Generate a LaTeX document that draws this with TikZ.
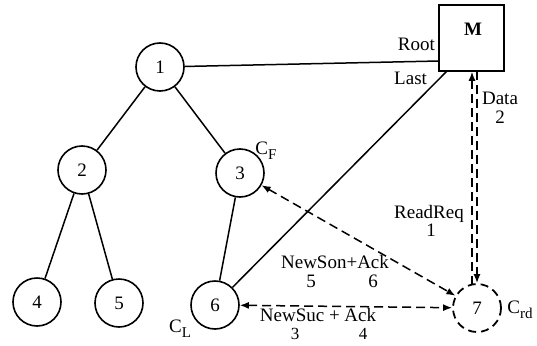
\documentclass[tikz,border=0pt]{standalone}
\usepackage{fontspec}
\setmainfont{Liberation Serif}
\usetikzlibrary{arrows.meta}
\newcommand{\subsc}[1]{{\fontsize{15}{15}\selectfont\raisebox{-5pt}{#1}}}
\begin{document}
\begin{tikzpicture}[x=1pt,y=-1pt,
  circ/.style={circle,draw,line width=1.6pt,minimum size=48pt,inner sep=0pt,font=\fontsize{19}{19}\selectfont},
  lbl/.style={font=\fontsize{19}{19}\selectfont,inner sep=0pt,text height=13pt,text depth=1pt},
  small/.style={font=\fontsize{17}{17}\selectfont},
  link/.style={line width=1.5pt},
  msg/.style={dash pattern=on 9pt off 5pt,line width=1.5pt,-{Latex[length=9pt,width=7pt]}},
  msgtwo/.style={dash pattern=on 9pt off 5pt,line width=1.5pt,{Latex[length=9pt,width=7pt]}-{Latex[length=9pt,width=7pt]}}]
\useasboundingbox (0,0) rectangle (537,345);
\node[circ] (n1) at (160,67) {1};
\node[circ] (n2) at (82,170) {2};
\node[circ] (n3) at (240,173) {3};
\node[circ] (n4) at (37,302) {4};
\node[circ] (n5) at (119,303) {5};
\node[circ] (n6) at (215,305) {6};
\node[circ,dash pattern=on 8pt off 5pt,line width=1.8pt] (n7) at (477,308) {7};
\node[draw,line width=1.5pt,minimum width=65pt,minimum height=66pt,inner sep=0pt] (M) at (471.5,38) {};
\node[font=\fontsize{19}{19}\bfseries] (Mt) at (473,29) {M};
\coordinate (Mroot) at (439,61);
\coordinate (Mlast) at (447,71);
\draw[link] (n1) -- (n2);
\draw[link] (n1) -- (n3);
\draw[link] (n2) -- (n4);
\draw[link] (n2) -- (n5);
\draw[link] (n3) -- (n6);
\draw[link] (n1) -- (Mroot);
\draw[link] (n6) -- (Mlast);
\coordinate (dstart) at (472,285);
\coordinate (rstart) at (477,71);
\draw[msg] (dstart) -- (dstart |- M.south);
\draw[msg] (rstart) -- (rstart |- n7.north);
\draw[msgtwo] (n3) -- (n7);
\draw[msgtwo] (n6) -- (n7);
\node[lbl,anchor=east] (root) at (435,45) {Root};
\node[lbl,anchor=west] (last) at (394,78) {Last};
\node[lbl] (data) at (500,98) {Data};
\node[lbl] (data2) at (500,117) {2};
\node[lbl] (rr) at (429,212) {ReadReq};
\node[lbl] (rr1) at (431,230) {1};
\node[lbl] (ns) at (335,262) {NewSon+Ack};
\node[lbl] (ns5) at (311,281) {5};
\node[lbl] (ns6) at (373,281) {6};
\node[lbl] (nu) at (318,315) {NewSuc + Ack};
\node[lbl,small] (nu3) at (295,333) {3};
\node[lbl,small] (nu4) at (363,333) {4};
\node[lbl] (cf) at (266,148) {C\subsc{F}};
\node[lbl] (cl) at (180,326) {C\subsc{L}};
\node[lbl] (crd) at (520,307) {C\subsc{rd}};
\end{tikzpicture}
\end{document}
